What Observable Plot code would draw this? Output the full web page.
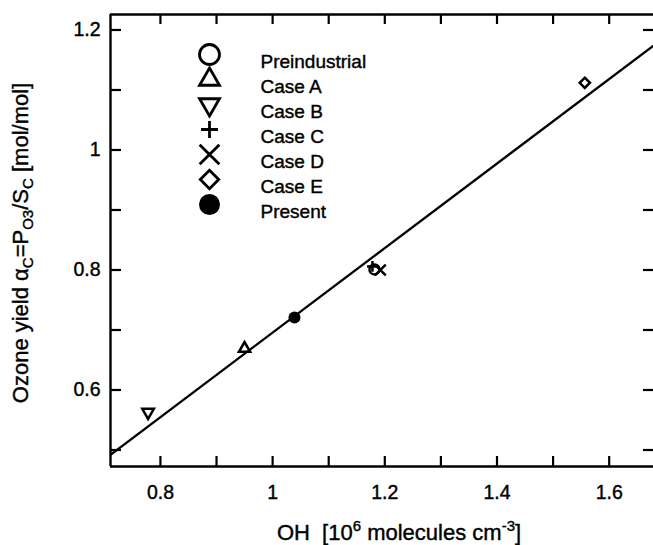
<!DOCTYPE html>
<html>
<head>
<meta charset="utf-8">
<script src="https://cdn.jsdelivr.net/npm/d3@7"></script>
<script src="https://cdn.jsdelivr.net/npm/@observablehq/plot@0.6"></script>
<style>
  html, body { margin: 0; padding: 0; background: #fff; }
  #chart svg { display: block; }
</style>
</head>
<body>
<div id="chart"></div>
<script>
// ---- data ----
const cases = ["Preindustrial", "Case A", "Case B", "Case C", "Case D", "Case E", "Present"];
const ohValues = [1.1816, 0.950, 0.778, 1.178, 1.192, 1.5565, 1.039];
const yieldValues = [0.801, 0.669, 0.563, 0.806, 0.800, 1.112, 0.721];
const fitOH = [0.711, 1.679];
const fitYield = [0.492, 1.174];
const xTicks = [0.8, 0.9, 1.0, 1.1, 1.2, 1.3, 1.4, 1.5, 1.6];
const xTickLabels = [0.8, 1, 1.2, 1.4, 1.6];
const yTicks = [0.5, 0.6, 0.7, 0.8, 0.9, 1.0, 1.1, 1.2];
const yTickLabels = [0.6, 0.8, 1, 1.2];

// ---- symbols ----
const sqrt3 = Math.sqrt(3);
const triangleDown = {
  draw(context, size) {
    const y = -Math.sqrt(size / (sqrt3 * 3));
    context.moveTo(0, -y * 2);
    context.lineTo(-sqrt3 * y, y);
    context.lineTo(sqrt3 * y, y);
    context.closePath();
  }
};
const styles = {
  "Preindustrial": {symbol: "circle", r: 5, lr: 10, filled: false},
  "Case A": {symbol: "triangle", r: 4.2, lr: 7.4, filled: false},
  "Case B": {symbol: triangleDown, r: 4.3, lr: 7.4, filled: false},
  "Case C": {symbol: "plus", r: 3.6, lr: 5.5, filled: false},
  "Case D": {symbol: "times", r: 5, lr: 9, filled: false},
  "Case E": {symbol: "diamond2", r: 4.6, lr: 8.3, filled: false},
  "Present": {symbol: "circle", r: 6, lr: 10.5, filled: true}
};

const points = cases.map((c, i) => ({name: c, oh: ohValues[i], y: yieldValues[i]}));
const fit = fitOH.map((x, i) => ({oh: x, y: fitYield[i]}));

const W = 653, H = 545;
const mL = 110, mR = 0, mT = 14, mB = 79;
const frameW = W - mL - mR, frameH = H - mT - mB;
const tickLen = 10;

const marks = [];
// frame lines (left, top, bottom)
marks.push(Plot.ruleY([0.4725, 1.2258], {y: d => d, stroke: "black", strokeWidth: 2.4}));
marks.push(Plot.ruleX([0.711], {x: d => d, stroke: "black", strokeWidth: 2.4}));
// inward ticks
marks.push(Plot.tickX(xTicks, {x: d => d, insetTop: frameH - tickLen, strokeWidth: 2.2}));
marks.push(Plot.tickX(xTicks, {x: d => d, insetBottom: frameH - tickLen, strokeWidth: 2.2}));
marks.push(Plot.tickY(yTicks, {y: d => d, insetRight: frameW - tickLen - 1, strokeWidth: 2.2}));
marks.push(Plot.tickY(yTicks, {y: d => d, insetLeft: frameW - tickLen, strokeWidth: 2.2}));
// tick labels
marks.push(Plot.axisX(xTickLabels, {anchor: "bottom", tickSize: 0, tickPadding: 19, fontSize: 19.5, tickFormat: d => String(d), label: null}));
marks.push(Plot.axisY(yTickLabels, {anchor: "left", tickSize: 0, tickPadding: 10, fontSize: 19.5, tickFormat: d => String(d), label: null}));
// fit line
marks.push(Plot.line(fit, {x: "oh", y: "y", stroke: "black", strokeWidth: 2.3, clip: true}));
// data points
points.forEach(p => {
  const s = styles[p.name];
  marks.push(Plot.dot([p], {
    x: "oh", y: "y", symbol: s.symbol, r: s.r,
    fill: s.filled ? "black" : "none",
    stroke: s.filled ? "none" : "black",
    strokeWidth: 2.5
  }));
});
// legend inside plot
cases.forEach((c, i) => {
  const s = styles[c];
  marks.push(Plot.dot([c], {
    frameAnchor: "top-left", dx: 99, dy: 40 + i * 25,
    symbol: s.symbol, r: s.lr,
    fill: s.filled ? "black" : "none",
    stroke: s.filled ? "none" : "black",
    strokeWidth: 2.8
  }));
  marks.push(Plot.text([c], {
    frameAnchor: "top-left", dx: 150, dy: 40 + i * 25,
    text: d => d, textAnchor: "start", fontSize: 19, fill: "black"
  }));
});

const svg = Plot.plot({
  width: W,
  height: H,
  marginLeft: mL,
  marginRight: mR,
  marginTop: mT,
  marginBottom: mB,
  x: {domain: [0.711, 1.679]},
  y: {domain: [0.4725, 1.2258]},
  style: {fontFamily: "'Liberation Sans', Arial, Helvetica, sans-serif", fontSize: "19px", color: "black", background: "white"},
  marks
});

// axis titles with sub/superscripts
const root = d3.select(svg);
const xl = root.append("text")
  .attr("x", 399).attr("y", 540)
  .attr("text-anchor", "middle")
  .attr("font-size", 22)
  .attr("fill", "black")
  .style("white-space", "pre");
xl.append("tspan").text("OH  [10");
xl.append("tspan").attr("font-size", 15).attr("dy", -9).text("6");
xl.append("tspan").attr("dy", 9).text(" molecules cm");
xl.append("tspan").attr("font-size", 15).attr("dy", -9).text("-3");
xl.append("tspan").attr("dy", 9).text("]");

const yl = root.append("text")
  .attr("transform", "translate(28,243) rotate(-90)")
  .attr("text-anchor", "middle")
  .attr("font-size", 22)
  .attr("fill", "black")
  .style("white-space", "pre");
yl.append("tspan").text("Ozone yield α");
yl.append("tspan").attr("font-size", 15).attr("dy", 5).text("C");
yl.append("tspan").attr("dy", -5).text("=P");
yl.append("tspan").attr("font-size", 15).attr("dy", 5).text("O3");
yl.append("tspan").attr("dy", -5).text("/S");
yl.append("tspan").attr("font-size", 15).attr("dy", 5).text("C");
yl.append("tspan").attr("dy", -5).text(" [mol/mol]");

// slightly heavier text rendering, like the reference
root.selectAll("text").attr("stroke", "black").attr("stroke-width", 0.4);

document.getElementById("chart").appendChild(svg);
</script>
</body>
</html>
